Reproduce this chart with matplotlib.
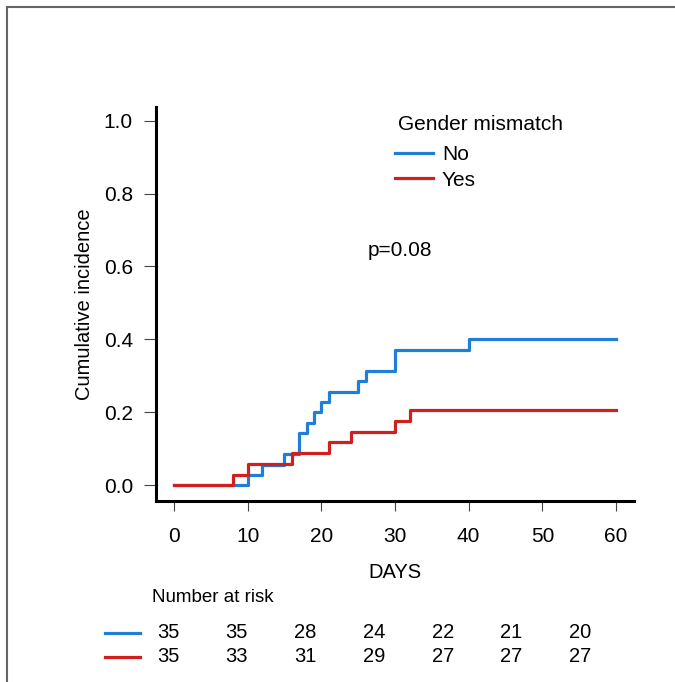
import matplotlib
matplotlib.use("Agg")
import matplotlib.pyplot as plt
from matplotlib.lines import Line2D

plt.rcParams['font.family'] = ['Liberation Sans', 'DejaVu Sans']

# cumulative incidence curves (step times in days)
no_days = [0, 10, 12, 15, 17, 18, 19, 20, 21, 25, 26, 30, 40, 60]
no_ci = [0.0, 0.029, 0.057, 0.086, 0.143, 0.171, 0.200, 0.229, 0.257, 0.286, 0.314, 0.371, 0.400, 0.400]
yes_days = [0, 8, 10, 16, 21, 24, 30, 32, 60]
yes_ci = [0.0, 0.029, 0.059, 0.088, 0.118, 0.147, 0.176, 0.206, 0.206]

# number at risk table
risk_days = [0, 10, 20, 30, 40, 50, 60]
risk_no = [35, 35, 28, 24, 22, 21, 20]
risk_yes = [35, 33, 31, 29, 27, 27, 27]

group_labels = ['No', 'Yes']
blue = '#1f7fd6'
red = '#d11f1f'

W, H = 675, 682
fig = plt.figure(figsize=(W / 100, H / 100), dpi=100)

def px_box(left, top, right, bottom):
    return [left / W, 1 - bottom / H, (right - left) / W, (bottom - top) / H]

ax = fig.add_axes(px_box(156, 107, 634, 501))
ax.step(no_days, no_ci, where='post', color=blue, lw=2.3, label=group_labels[0])
ax.step(yes_days, yes_ci, where='post', color=red, lw=2.3, label=group_labels[1])

ax.set_xlim(-2.44, 62.44)
ax.set_ylim(-0.0425, 1.037)
ax.set_xticks([0, 10, 20, 30, 40, 50, 60])
ax.set_yticks([0.0, 0.2, 0.4, 0.6, 0.8, 1.0])
ax.set_yticklabels(['0.0', '0.2', '0.4', '0.6', '0.8', '1.0'])
for s in ['top', 'right']:
    ax.spines[s].set_visible(False)
for s in ['left', 'bottom']:
    ax.spines[s].set_linewidth(2.2)
    ax.spines[s].set_color('black')
ax.tick_params(axis='y', length=8.6, width=0.8, color='#444444', pad=8, labelsize=15)
ax.tick_params(axis='x', length=7, width=0.8, color='#444444', pad=12, labelsize=15)

ax.set_xlabel('DAYS', fontsize=14.5)
ax.xaxis.set_label_coords(0.5, (501 - 573) / 394)
ax.xaxis.label.set_va('center')
ax.set_ylabel('Cumulative incidence', fontsize=14.5)
ax.yaxis.set_label_coords((85 - 156) / 478, 0.5)
ax.yaxis.label.set_va('center')

# legend
fig.text(398 / W, 1 - 124 / H, 'Gender mismatch', fontsize=15, ha='left', va='center')
ax.legend(loc='center left', frameon=False,
          bbox_to_anchor=(395 / W, 1 - 167.5 / H), bbox_transform=fig.transFigure,
          fontsize=15, handlelength=1.82, handletextpad=0.43,
          labelspacing=0.31, borderpad=0, borderaxespad=0)

ax.text(400 / W, 1 - 250 / H, 'p=0.08', transform=fig.transFigure, fontsize=15,
        ha='center', va='center')

# risk table axes: day positions of the numbers
rax = fig.add_axes(px_box(168, 620, 580, 670))
rax.set_xlim(0, 60)
rax.set_ylim(670, 620)
rax.axis('off')
row_y = [632.5, 657]
for vals, y, c in [(risk_no, row_y[0], blue), (risk_yes, row_y[1], red)]:
    for d, v in zip(risk_days, vals):
        rax.text(d, y, str(v), ha='center', va='center', fontsize=14.5)
    rax.add_line(Line2D([105 / W, 140 / W], [1 - y / H, 1 - y / H], color=c, lw=2.3,
                        transform=fig.transFigure, clip_on=False))

fig.text(152 / W, 1 - 597 / H, 'Number at risk', fontsize=13.5, ha='left', va='center')

# outer frame
fig.add_artist(Line2D([7 / W, 7 / W], [0, 1 - 7 / H], color='#666666', lw=1.5))
fig.add_artist(Line2D([7 / W, 1], [1 - 7 / H, 1 - 7 / H], color='#666666', lw=1.5))

fig.savefig('out.png', dpi=100)
